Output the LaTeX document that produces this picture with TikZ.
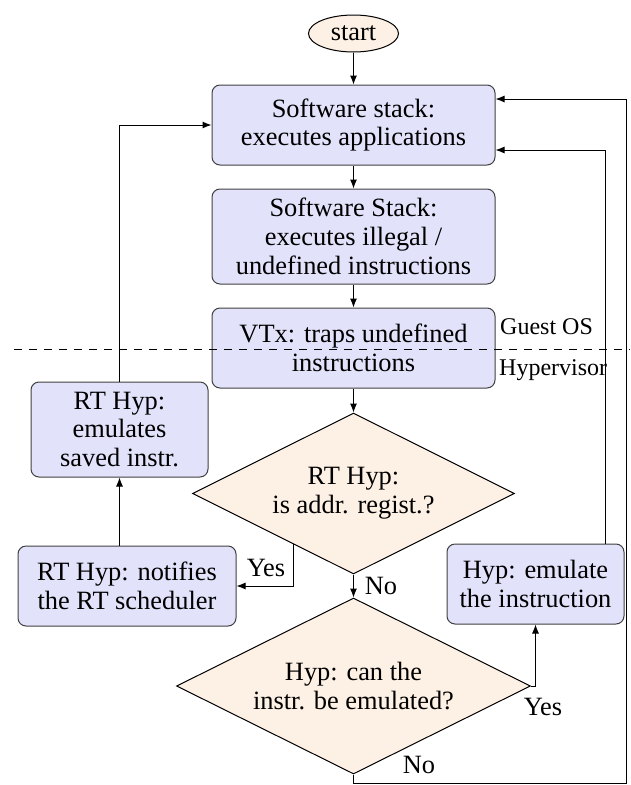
\documentclass[tikz,border=0pt]{standalone}
\usepackage{fontspec}
\setmainfont{Liberation Serif}
\usetikzlibrary{shapes.geometric,arrows.meta,calc}
\definecolor{boxfill}{RGB}{226,226,250}
\definecolor{decfill}{RGB}{253,240,228}
\begin{document}
\begin{tikzpicture}[x=1pt,y=-1pt,
  txt/.style={font=\fontsize{26.4pt}{28.7pt}\selectfont},
  box/.style={txt, draw=black!75, fill=boxfill, rounded corners=8pt, align=center, inner sep=0pt, line width=1pt},
  dec/.style={txt, diamond, aspect=2, draw=black, fill=decfill, align=center, inner sep=0pt, line width=1pt},
  conn/.style={line width=1pt, -{Latex[length=9pt,width=7pt]}},
  lbl/.style={txt, inner sep=0pt},
  side/.style={font=\fontsize{24pt}{28pt}\selectfont, inner sep=0pt, anchor=west}
]
\useasboundingbox (0,0) rectangle (630,785);
% nodes
\node[txt, ellipse, draw=black, fill=decfill, minimum width=90pt, minimum height=37pt, inner sep=0pt, line width=1pt] (start) at (353.5,33.5) {start};
\node[box, minimum width=283pt, minimum height=80pt] (b1) at (353.5,125) {Software stack:\\executes applications};
\node[box, minimum width=283pt, minimum height=95pt] (b2) at (353.5,236.5) {Software Stack:\\executes illegal /\\undefined instructions};
\node[box, minimum width=283pt, minimum height=80pt] (b3) at (353.5,348) {VTx: traps undefined\\instructions};
\node[dec, minimum width=322pt, minimum height=161pt] (d1) at (353.5,493.5) {RT Hyp:\\is addr. regist.?};
\node[dec, minimum width=354pt, minimum height=176pt] (d2) at (353.5,686) {Hyp: can the\\instr. be emulated?};
\node[box, minimum width=177pt, minimum height=95pt] (ems) at (119.5,429.5) {RT Hyp:\\emulates\\saved instr.};
\node[box, minimum width=218pt, minimum height=80pt] (ntf) at (127,586) {RT Hyp: notifies\\the RT scheduler};
\node[box, minimum width=177pt, minimum height=80pt] (emu) at (535.5,584) {Hyp: emulate\\the instruction};
% side labels
\node[side] (gos) at (500,327) {Guest OS};
\node[side] (hyp) at (499,370) {Hypervisor};
% coordinates
\coordinate (yA) at ($(d1.west)!0.628!(d1.south)$);
\coordinate (eT) at ($(emu.north east)+(-19,0)$);
\coordinate (b1r) at ($(b1.east)+(0,25)$);
\coordinate (b1t) at ($(b1.east)+(0,-26)$);
\coordinate (rc) at (626,783);
\coordinate (dL) at (14,349);
\coordinate (dR) at (630,349);
% connectors
\draw[conn] (start) -- (b1);
\draw[conn] (b1) -- (b2);
\draw[conn] (b2) -- (b3);
\draw[conn] (b3) -- (d1);
\draw[conn] (d1.south) -- (d2.north);
\draw[conn] (yA) |- (ntf.east);
\draw[conn] (ntf.north -| ems.south) -- (ems.south);
\draw[conn] (ems.north) |- (b1.west);
\draw[conn] (d2.east) -| (emu.south);
\draw[conn] (eT) |- (b1r);
\draw[conn] (d2.south) |- (rc) |- (b1t);
% labels
\node[lbl] (y1) at (266,568) {Yes};
\node[lbl] (n1) at (381,586) {No};
\node[lbl] (y2) at (543,707) {Yes};
\node[lbl] (n2) at (419,765) {No};
% dashed separator
\draw[line width=1pt, dash pattern=on 7.5pt off 7.5pt] (dL) -- (dR);
\end{tikzpicture}
\end{document}
